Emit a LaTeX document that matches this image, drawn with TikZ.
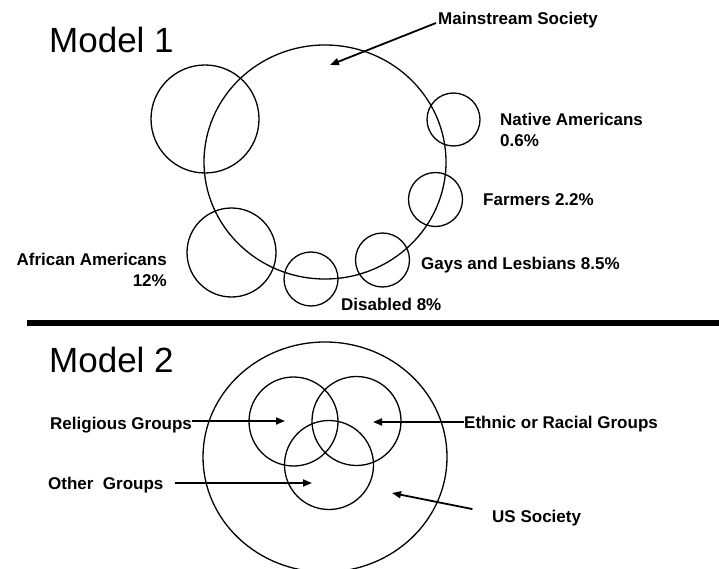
\documentclass[tikz,border=0pt]{standalone}
\usepackage{fontspec}
\setmainfont{Liberation Sans}
\usetikzlibrary{shapes.geometric,arrows.meta}
\begin{document}
\begin{tikzpicture}[x=1pt,y=-1pt,
  ring/.style={draw,line width=1.3pt,circle,inner sep=0pt},
  oval/.style={draw,line width=1.3pt,ellipse,inner sep=0pt},
  lbl/.style={font=\fontsize{17}{20}\selectfont\bfseries,inner sep=0pt},
  heading/.style={font=\fontsize{35}{40}\selectfont,inner sep=0pt},
  arr/.style={line width=1.8pt,-{Triangle[length=9pt,width=7pt]}}]
\useasboundingbox (0,0) rectangle (719,569);
\clip (0,0) rectangle (719,569);

% ---------- Model 1 ----------
\node[heading,anchor=base west] (m1) at (49,53) {Model 1};

\node[oval,minimum width=242pt,minimum height=234pt] (main) at (325,162) {};
\node[ring,minimum size=108pt] (other1) at (205,119) {};
\node[ring,minimum size=53pt] (native) at (453.5,119.5) {};
\node[ring,minimum size=54pt] (farm) at (435.5,199.5) {};
\node[ring,minimum size=54pt] (gay) at (382.5,260) {};
\node[ring,minimum size=54pt] (dis) at (311,279) {};
\node[ring,minimum size=89pt] (afr) at (231.5,252.5) {};

\node[lbl,anchor=base west] (msoc) at (438,25) {Mainstream Society};
\coordinate (msoctip) at (330,65);
\draw[arr] ([xshift=-2pt,yshift=2pt]msoc.base west) -- (msoctip);

\node[lbl,anchor=north west,align=left] (nativel) at (500,113)
  {Native Americans\\[1pt]0.6\%};
\node[lbl,anchor=base west] (farml) at (483,206) {Farmers 2.2\%};
\node[lbl,anchor=base west] (gayl) at (421,269) {Gays and Lesbians 8.5\%};
\node[lbl,anchor=base west] (disl) at (341,310) {Disabled 8\%};
\node[lbl,anchor=north east,align=right] (afrl) at (167,253)
  {African Americans\\[1pt]12\%};

% ---------- divider ----------
\fill (27,320) rectangle (719,326);

% ---------- Model 2 ----------
\node[heading,anchor=base west] (m2) at (49,372) {Model 2};

\node[oval,minimum width=244pt,minimum height=230pt] (us) at (325,457) {};
\node[ring,minimum size=89pt] (relig) at (293.5,421.5) {};
\node[ring,minimum size=89pt] (ethnic) at (356.5,421) {};
\node[ring,minimum size=89pt] (othergr) at (329,465) {};

\node[lbl,anchor=base west] (religl) at (50,429) {Religious Groups};
\coordinate (religtip) at (285,421);
\draw[arr] (religl.east |- religtip) -- (religtip);

\node[lbl,anchor=base west] (ethnicl) at (464,428) {Ethnic or Racial Groups};
\coordinate (ethnictip) at (373,422);
\draw[arr] (ethnicl.west |- ethnictip) -- (ethnictip);

\node[lbl,anchor=base west] (otherl) at (48,489) {Other\ \ Groups};
\coordinate (othertip) at (312,483);
\draw[arr] ([xshift=11pt]otherl.east |- othertip) -- (othertip);

\node[lbl,anchor=base west] (usl) at (492,522) {US Society};
\coordinate (ustip) at (392,493);
\draw[arr,shorten <=20pt] ([yshift=9pt]usl.base west) -- (ustip);
\end{tikzpicture}
\end{document}
